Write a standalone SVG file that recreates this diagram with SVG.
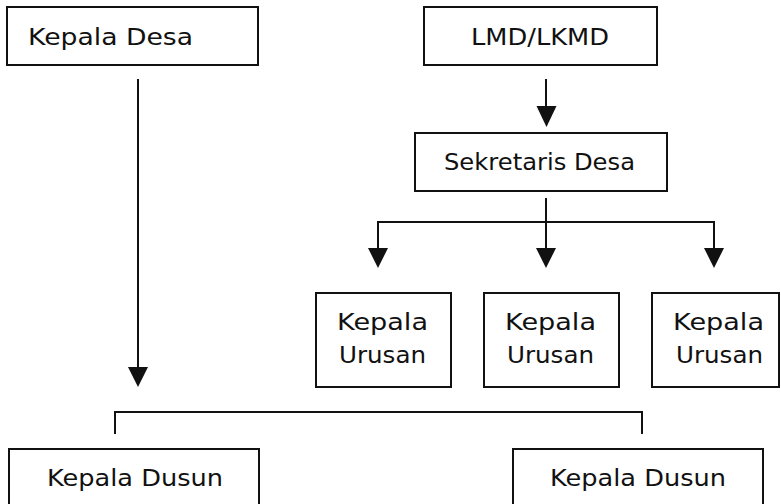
<svg xmlns="http://www.w3.org/2000/svg" width="781" height="504" viewBox="0 0 781 504">
<style>
.box{fill:#fff;stroke:#111;stroke-width:2}
.t{font-family:"DejaVu Sans","Liberation Sans",sans-serif;font-size:23px;fill:#111}
.ln{fill:none;stroke:#111;stroke-width:2}
.ah{fill:#111}
</style>
<rect width="781" height="504" fill="#fff"/>
<g id="kepala-desa">
<rect class="box" x="7" y="7" width="251" height="58"/>
<text class="t" x="28" y="45" textLength="165" lengthAdjust="spacingAndGlyphs">Kepala Desa</text>
</g>
<g id="lmd-lkmd">
<rect class="box" x="424" y="7" width="233" height="58"/>
<text class="t" x="471" y="45" textLength="138" lengthAdjust="spacingAndGlyphs">LMD/LKMD</text>
</g>
<g id="sekretaris-desa">
<rect class="box" x="415" y="133" width="252" height="58"/>
<text class="t" x="444" y="170" textLength="191" lengthAdjust="spacingAndGlyphs">Sekretaris Desa</text>
</g>
<g id="kepala-urusan-1">
<rect class="box" x="316" y="293" width="135" height="94"/>
<text class="t" x="337" y="330" textLength="91" lengthAdjust="spacingAndGlyphs">Kepala</text>
<text class="t" x="339" y="363" textLength="87" lengthAdjust="spacingAndGlyphs">Urusan</text>
</g>
<g id="kepala-urusan-2">
<rect class="box" x="484" y="293" width="135" height="94"/>
<text class="t" x="505" y="330" textLength="91" lengthAdjust="spacingAndGlyphs">Kepala</text>
<text class="t" x="507" y="363" textLength="87" lengthAdjust="spacingAndGlyphs">Urusan</text>
</g>
<g id="kepala-urusan-3">
<rect class="box" x="652" y="293" width="127" height="94"/>
<text class="t" x="673" y="330" textLength="91" lengthAdjust="spacingAndGlyphs">Kepala</text>
<text class="t" x="676" y="363" textLength="87" lengthAdjust="spacingAndGlyphs">Urusan</text>
</g>
<g id="kepala-dusun-1">
<rect class="box" x="9" y="449" width="250" height="70"/>
<text class="t" x="47" y="486" textLength="176" lengthAdjust="spacingAndGlyphs">Kepala Dusun</text>
</g>
<g id="kepala-dusun-2">
<rect class="box" x="513" y="449" width="250" height="70"/>
<text class="t" x="550" y="486" textLength="176" lengthAdjust="spacingAndGlyphs">Kepala Dusun</text>
</g>
<g id="connectors">
<path class="ln" d="M138,79 V368"/>
<polygon class="ah" points="128,367 148,367 138,387"/>
<path class="ln" d="M546,79 V107"/>
<polygon class="ah" points="536.5,106 556.5,106 546.5,127"/>
<path class="ln" d="M546,198 V249 M378,249 V222 H714 V249"/>
<polygon class="ah" points="368,248 388,248 378,268"/>
<polygon class="ah" points="536,248 556,248 546,268"/>
<polygon class="ah" points="704,248 724,248 714,268"/>
<path class="ln" d="M115,434 V412 H642 V434"/>
</g>
</svg>
